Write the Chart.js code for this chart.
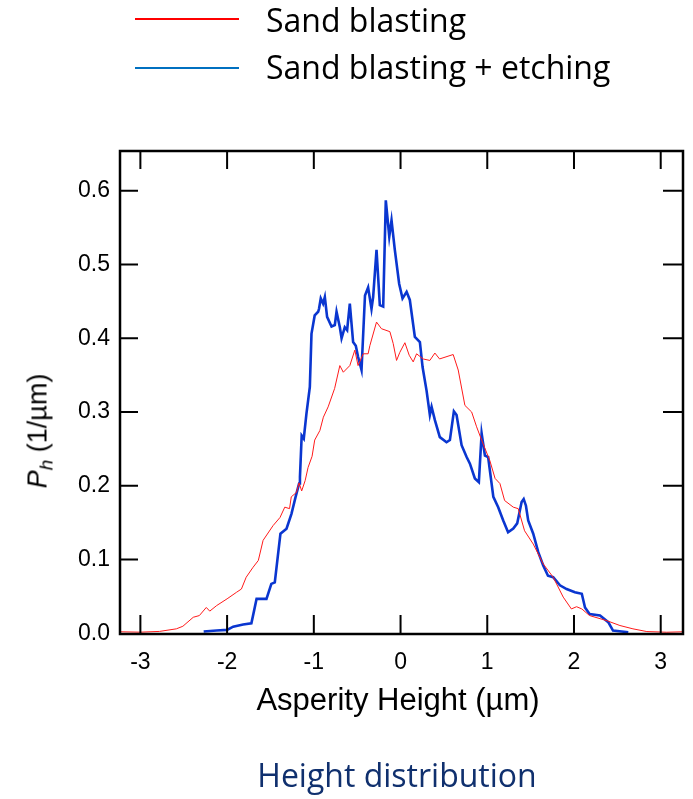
<!DOCTYPE html>
<html>
<head>
<meta charset="utf-8">
<script src="https://cdn.jsdelivr.net/npm/chart.js@4.4.1/dist/chart.umd.min.js"></script>
<style>
  html, body { margin: 0; padding: 0; background: #ffffff; }
  #wrap { position: relative; width: 693px; height: 799px; overflow: hidden; }
  canvas { position: absolute; left: 0; top: 0; }
  .txt { position: absolute; white-space: nowrap; }
  .leg { font-family: "Open Sans", sans-serif; font-size: 32px; line-height: 32px; color: #000; left: 266px; }
  .legline { position: absolute; left: 135px; width: 104px; height: 2px; }
  #xtitle { font-family: "Liberation Sans", Arial, sans-serif; font-size: 31px; line-height: 31px; color: #000;
            left: 398px; top: 683.5px; transform: translateX(-50%); }
  #ytitle { font-family: "Liberation Sans", Arial, sans-serif; font-size: 27px; line-height: 27px; color: #000;
            left: 38px; top: 431px; transform: translate(-50%, -50%) rotate(-90deg); }
  #ytitle sub { font-size: 19px; line-height: 0; vertical-align: -6px; }
  #title { font-family: "Open Sans", sans-serif; font-size: 32px; line-height: 32px; color: #10306e;
           left: 397px; top: 759px; transform: translateX(-50%); }
</style>
</head>
<body>
<div id="wrap">
  <canvas id="c" width="693" height="799"></canvas>
  <div class="legline" style="top:17.7px; background:#ff0000;"></div>
  <div class="txt leg" style="top:4px;">Sand blasting</div>
  <div class="legline" style="top:67.3px; background:#0070c0;"></div>
  <div class="txt leg" style="top:51px;">Sand blasting + etching</div>
  <div id="xtitle" class="txt">Asperity Height (µm)</div>
  <div id="ytitle" class="txt"><i>P</i><sub><i>h</i></sub> (1/µm)</div>
  <div id="title" class="txt">Height distribution</div>
</div>
<script>
// ---- data ----
const seriesNames = ["Sand blasting", "Sand blasting + etching"];

const sandX = [-3.235, -3.0, -2.78, -2.585, -2.51, -2.39, -2.32, -2.24, -2.20, -2.12, -2.0, -1.89, -1.835, -1.78,
  -1.70, -1.64, -1.585, -1.47, -1.39, -1.335, -1.28, -1.26, -1.20, -1.17, -1.14, -1.10, -1.066, -1.02, -0.99,
  -0.93, -0.89, -0.835, -0.76, -0.70, -0.66, -0.585, -0.527, -0.49, -0.43, -0.374, -0.354, -0.277, -0.22,
  -0.123, -0.085, -0.046, -0.008, 0.05, 0.10, 0.146, 0.185, 0.26, 0.338, 0.396, 0.45, 0.607, 0.665, 0.742,
  0.82, 0.877, 0.935, 1.03, 1.09, 1.146, 1.20, 1.30, 1.357, 1.43, 1.53, 1.645, 1.76, 1.876, 1.97, 2.03, 2.09,
  2.18, 2.38, 2.53, 2.68, 2.84, 3.07, 3.257];
const sandY = [0.002, 0.0015, 0.0025, 0.006, 0.0095, 0.0217, 0.024, 0.035, 0.030, 0.0376, 0.0467, 0.0557, 0.060, 0.076,
  0.0896, 0.0987, 0.126, 0.146, 0.157, 0.171, 0.169, 0.185, 0.191, 0.204, 0.193, 0.207, 0.225, 0.240, 0.262,
  0.275, 0.293, 0.307, 0.332, 0.363, 0.354, 0.363, 0.384, 0.363, 0.379, 0.379, 0.390, 0.422, 0.413,
  0.409, 0.393, 0.370, 0.381, 0.394, 0.377, 0.368, 0.379, 0.372, 0.370, 0.380, 0.372, 0.378, 0.357, 0.309,
  0.300, 0.280, 0.262, 0.234, 0.210, 0.203, 0.180, 0.171, 0.169, 0.139, 0.121, 0.094, 0.076, 0.049, 0.033, 0.036, 0.033,
  0.024, 0.017, 0.0105, 0.006, 0.0023, 0.0014, 0.002];

const etchX = [-2.27, -2.12, -2.0, -1.93, -1.815, -1.72, -1.69, -1.66, -1.546, -1.49, -1.45, -1.385, -1.315, -1.258,
  -1.21, -1.17, -1.16, -1.14, -1.116, -1.085, -1.046, -1.027, -0.99, -0.95, -0.94, -0.92, -0.893, -0.873, -0.847,
  -0.796, -0.758, -0.738, -0.70, -0.68, -0.643, -0.616, -0.585, -0.547, -0.516, -0.49, -0.45, -0.41, -0.374,
  -0.335, -0.316, -0.277, -0.239, -0.20, -0.17, -0.13, -0.104, -0.066, -0.016, 0.023, 0.07, 0.107, 0.165, 0.223,
  0.254, 0.30, 0.338, 0.358, 0.396, 0.453, 0.53, 0.569, 0.615, 0.646, 0.704, 0.762, 0.80, 0.857, 0.903, 0.935,
  0.973, 1.01, 1.07, 1.126, 1.184, 1.24, 1.30, 1.345, 1.396, 1.42, 1.446, 1.472, 1.53, 1.588, 1.645, 1.70, 1.76,
  1.838, 1.915, 2.01, 2.09, 2.127, 2.18, 2.30, 2.395, 2.45, 2.626];
const etchY = [0.0023, 0.0037, 0.0046, 0.009, 0.0118, 0.0136, 0.030, 0.0467, 0.0467, 0.067, 0.069, 0.135, 0.1417, 0.162,
  0.185, 0.203, 0.212, 0.268, 0.264, 0.298, 0.334, 0.406, 0.431, 0.436, 0.440, 0.454, 0.447, 0.456, 0.429,
  0.416, 0.418, 0.436, 0.415, 0.400, 0.415, 0.411, 0.447, 0.395, 0.390, 0.375, 0.357, 0.458, 0.469,
  0.440, 0.456, 0.520, 0.445, 0.443, 0.587, 0.538, 0.560, 0.520, 0.474, 0.454, 0.463, 0.452, 0.402, 0.395,
  0.361, 0.329, 0.296, 0.307, 0.289, 0.266, 0.259, 0.262, 0.301, 0.296, 0.255, 0.239, 0.230, 0.210, 0.205, 0.271,
  0.241, 0.239, 0.185, 0.171, 0.153, 0.137, 0.142, 0.149, 0.178, 0.182, 0.173, 0.153, 0.135, 0.110, 0.092, 0.078, 0.076,
  0.065, 0.060, 0.0557, 0.0535, 0.035, 0.026, 0.024, 0.015, 0.0037, 0.0014];

const xTickValues = [-3, -2, -1, 0, 1, 2, 3];
const yTickValues = [0.0, 0.1, 0.2, 0.3, 0.4, 0.5, 0.6];

// ---- build ----
const toPoints = (xs, ys) => xs.map((x, i) => ({ x: x, y: ys[i] }));

const frameAndTicks = {
  id: 'frameAndTicks',
  afterDraw(chart) {
    const { ctx, chartArea: a, scales } = chart;
    const xs = scales.x, ys = scales.y;
    ctx.save();
    ctx.strokeStyle = '#000';
    ctx.lineWidth = 2;
    ctx.beginPath();
    xTickValues.forEach(v => {
      const px = xs.getPixelForValue(v);
      ctx.moveTo(px, a.bottom); ctx.lineTo(px, a.bottom - 19);
      ctx.moveTo(px, a.top); ctx.lineTo(px, a.top + 18);
    });
    yTickValues.forEach(v => {
      const py = ys.getPixelForValue(v);
      if (Math.abs(py - a.bottom) < 3) return;
      ctx.moveTo(a.left, py); ctx.lineTo(a.left + 18, py);
      ctx.moveTo(a.right, py); ctx.lineTo(a.right - 20, py);
    });
    ctx.stroke();
    ctx.lineWidth = 2.5;
    ctx.strokeRect(a.left, a.top, a.right - a.left, a.bottom - a.top);
    ctx.restore();
  }
};

new Chart(document.getElementById('c'), {
  type: 'line',
  data: {
    datasets: [
      { label: seriesNames[0], data: toPoints(sandX, sandY), borderColor: '#ff1a1a', borderWidth: 1,
        pointRadius: 0, tension: 0, fill: false },
      { label: seriesNames[1], data: toPoints(etchX, etchY), borderColor: '#0a36d0', borderWidth: 2.6,
        pointRadius: 0, tension: 0, fill: false }
    ]
  },
  options: {
    responsive: false,
    animation: false,
    devicePixelRatio: 1,
    layout: { padding: { left: 0, top: 151, right: 10, bottom: 0 } },
    plugins: { legend: { display: false }, tooltip: { enabled: false }, title: { display: false } },
    scales: {
      x: {
        type: 'linear', min: -3.235, max: 3.257,
        afterBuildTicks: s => { s.ticks = xTickValues.map(v => ({ value: v })); },
        afterFit: s => { s.height = 165; },
        grid: { display: false, drawTicks: false },
        border: { display: false },
        ticks: { padding: 15, color: '#000', font: { family: 'Liberation Sans', size: 23 },
                 callback: v => String(v), maxRotation: 0 }
      },
      y: {
        type: 'linear', min: -0.001, max: 0.654,
        afterBuildTicks: s => { s.ticks = yTickValues.map(v => ({ value: v })); },
        afterFit: s => { s.width = 120; },
        grid: { display: false, drawTicks: false },
        border: { display: false },
        ticks: { padding: 10, color: '#000', font: { family: 'Liberation Sans', size: 23 },
                 callback: v => Number(v).toFixed(1) }
      }
    }
  },
  plugins: [frameAndTicks]
});
</script>
</body>
</html>
